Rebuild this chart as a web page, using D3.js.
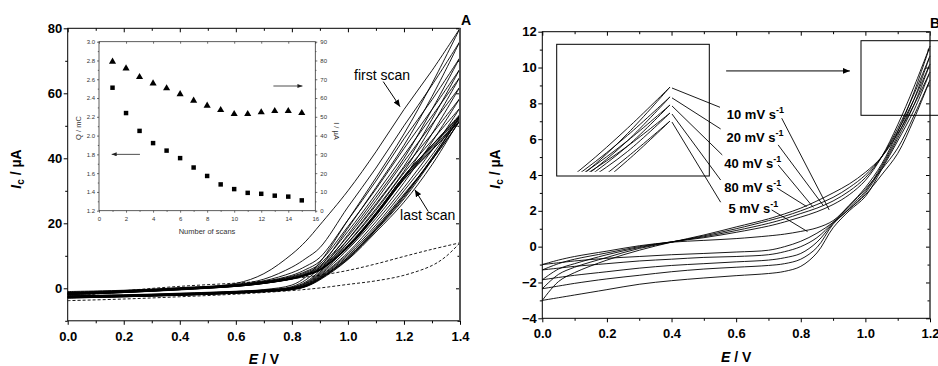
<!DOCTYPE html>
<html><head><meta charset="utf-8">
<script src="https://cdn.jsdelivr.net/npm/d3@7/dist/d3.min.js"></script>
<style>
html,body{margin:0;padding:0;background:#fff;}
svg{display:block;}
</style></head>
<body>
<svg id="chart" width="938" height="366"></svg>
<script>
// ================= Panel A data (E / V, I / µA) =================
const potentialGridA = [0, 0.2, 0.4, 0.6, 0.7, 0.8, 0.85, 0.9, 1.0, 1.1, 1.2, 1.3, 1.4];
const upperBranchesA = [
  [-1.0, -0.6, 0.2, 1.5, 4.5, 10.5, 14.5, 19.5, 30, 42, 55, 67, 80],
  [-1.2, -0.7, 0.1, 1.2, 2.8, 6.5, 9.2, 12.5, 25, 37, 50, 62.5, 76],
  [-1.3, -0.8, 0.0, 1.1, 2.3, 4.8, 6.8, 9.5, 21, 33, 46, 58, 71],
  [-1.4, -0.9, 0.0, 1.0, 2.1, 4.0, 5.8, 8.3, 19, 30.5, 43, 55, 67.5],
  [-1.5, -0.9, -0.1, 1.0, 2.0, 3.7, 5.2, 7.5, 17.5, 29, 41, 53, 65],
  [-1.5, -1.0, -0.1, 0.9, 1.9, 3.5, 4.9, 7.0, 16, 27, 39, 50.5, 62],
  [-1.6, -1.0, -0.2, 0.9, 1.8, 3.3, 4.6, 6.6, 15, 25.5, 37, 47.5, 58.5],
  [-1.6, -1.1, -0.2, 0.8, 1.7, 3.2, 4.4, 6.3, 14, 24, 35.5, 45.5, 55.5],
  [-1.7, -1.1, -0.3, 0.8, 1.7, 3.1, 4.3, 6.0, 13.3, 23.2, 34.5, 44, 53.5],
  [-1.7, -1.2, -0.3, 0.7, 1.6, 3.0, 4.2, 5.8, 12.8, 22.5, 33.5, 42.5, 51.5],
  [-1.8, -1.2, -0.3, 0.7, 1.6, 3.0, 4.1, 5.7, 12.6, 22.3, 33.5, 42.5, 51.5],
  [-1.8, -1.2, -0.4, 0.7, 1.6, 2.9, 4.1, 5.7, 12.7, 22.6, 34, 43.5, 52.5],
  [-1.9, -1.3, -0.4, 0.6, 1.5, 2.9, 4.0, 5.7, 12.9, 23, 34.5, 44, 53],
  [-1.9, -1.3, -0.4, 0.6, 1.5, 2.9, 4.0, 5.6, 12.8, 23, 34.5, 44, 53],
  [-2.0, -1.3, -0.5, 0.6, 1.5, 2.8, 3.9, 5.5, 12.5, 22.5, 34, 43, 52]
];
const lowerBranchesA = [
  [-2.2, -2.0, -1.5, -0.9, -0.4, 1.0, 3.5, 8.0, 21, 34, 47.5, 63, 80],
  [-2.3, -2.1, -1.6, -1.0, -0.5, 0.5, 2.6, 6.5, 18.5, 31, 44, 59, 76],
  [-2.4, -2.1, -1.7, -1.0, -0.6, 0.3, 2.0, 5.5, 16.5, 28, 40, 55, 71],
  [-2.5, -2.2, -1.7, -1.1, -0.6, 0.2, 1.7, 5.0, 15, 26, 37.5, 52, 67.5],
  [-2.5, -2.2, -1.8, -1.1, -0.7, 0.1, 1.5, 4.6, 14, 24.5, 36, 50, 65],
  [-2.6, -2.3, -1.8, -1.2, -0.7, 0.0, 1.3, 4.3, 13, 23, 34, 47.5, 62],
  [-2.6, -2.3, -1.9, -1.2, -0.8, -0.1, 1.1, 4.0, 12, 21.5, 32.5, 45, 58.5],
  [-2.7, -2.4, -1.9, -1.3, -0.8, -0.1, 1.0, 3.7, 11, 20.5, 31, 42.5, 55.5],
  [-2.7, -2.4, -2.0, -1.3, -0.9, -0.2, 0.9, 3.5, 10.5, 19.5, 30, 41, 53.5],
  [-2.8, -2.5, -2.0, -1.4, -0.9, -0.2, 0.8, 3.3, 10, 18.8, 29, 39.5, 51.5],
  [-2.8, -2.5, -2.0, -1.4, -0.9, -0.3, 0.7, 3.1, 9.5, 18.3, 28.5, 39.5, 51.5],
  [-2.9, -2.5, -2.1, -1.4, -1.0, -0.3, 0.7, 3.0, 9.5, 18.3, 28.5, 40, 52.5],
  [-2.9, -2.6, -2.1, -1.5, -1.0, -0.3, 0.6, 2.9, 9.2, 18, 28, 40, 53],
  [-3.0, -2.6, -2.1, -1.5, -1.0, -0.4, 0.6, 2.8, 9.0, 17.8, 27.5, 39.5, 53],
  [-3.0, -2.6, -2.2, -1.5, -1.1, -0.4, 0.5, 2.6, 8.8, 17.3, 26.5, 38, 52]
];
const blankUpperE = [0, 0.2, 0.4, 0.6, 0.7, 0.8, 0.9, 1.0, 1.1, 1.2, 1.3, 1.4];
const blankUpperI = [-2.8, -0.8, 0.6, 1.6, 2.2, 3.0, 4.0, 5.5, 7.5, 9.8, 12, 14];
const blankLowerE = [0, 0.2, 0.4, 0.6, 0.8, 0.9, 1.0, 1.1, 1.2, 1.3, 1.35, 1.4];
const blankLowerI = [-3.8, -3.3, -2.6, -1.8, -0.7, 0.1, 1.2, 2.3, 4.0, 7.0, 9.8, 14];

// inset of panel A
const scanNumbers = [1, 2, 3, 4, 5, 6, 7, 8, 9, 10, 11, 12, 13, 14, 15];
const chargeQ = [2.51, 2.24, 2.05, 1.92, 1.84, 1.76, 1.66, 1.57, 1.48, 1.43, 1.39, 1.38, 1.36, 1.35, 1.31];
const peakCurrent = [79.4, 75.8, 71.2, 67.8, 65.2, 62.1, 58.6, 55.9, 53.6, 51.5, 51.5, 52.4, 53.1, 53.1, 52.0];

const xTicksA = [0, 0.2, 0.4, 0.6, 0.8, 1.0, 1.2, 1.4];
const xMinorA = [0.1, 0.3, 0.5, 0.7, 0.9, 1.1, 1.3];
const yTicksA = [0, 20, 40, 60, 80];
const yMinorA = [-10, 10, 30, 50, 70];
const insetXTicks = [0, 2, 4, 6, 8, 10, 12, 14, 16];
const insetQTicks = [1.2, 1.4, 1.6, 1.8, 2.0, 2.2, 2.4, 2.6, 2.8, 3.0];
const insetITicks = [0, 10, 20, 30, 40, 50, 60, 70, 80, 90];

// ================= Panel B data =================
const potentialGridB = [0, 0.05, 0.1, 0.2, 0.3, 0.4, 0.5, 0.6, 0.7, 0.75, 0.8, 0.85, 0.9, 0.95, 1.0, 1.05, 1.1, 1.15, 1.2];
const scanRates = ["5", "10", "20", "40", "80"];
const upperBranchesB = [
  [-1.0, -0.75, -0.55, -0.25, 0.05, 0.25, 0.35, 0.45, 0.6, 0.7, 0.85, 1.05, 1.45, 2.3, 3.2, 4.3, 5.5, 7.3, 9.3],
  [-1.3, -0.95, -0.7, -0.35, 0.0, 0.27, 0.5, 0.8, 1.15, 1.38, 1.65, 1.95, 2.35, 2.9, 3.7, 5.0, 6.8, 8.9, 11.2],
  [-1.85, -1.25, -0.95, -0.45, -0.05, 0.27, 0.55, 0.9, 1.3, 1.55, 1.85, 2.15, 2.55, 3.1, 3.85, 5.0, 6.6, 8.5, 10.65],
  [-2.35, -1.55, -1.15, -0.6, -0.1, 0.25, 0.6, 1.0, 1.45, 1.7, 2.0, 2.35, 2.75, 3.3, 4.0, 5.0, 6.45, 8.2, 10.2],
  [-3.0, -1.95, -1.45, -0.75, -0.2, 0.25, 0.65, 1.1, 1.55, 1.83, 2.15, 2.55, 3.0, 3.5, 4.15, 5.0, 6.3, 7.9, 9.75]
];
const lowerBranchesB = [
  [-1.0, -0.9, -0.8, -0.65, -0.55, -0.45, -0.38, -0.3, -0.2, 0.0, 0.3, 0.75, 1.35, 2.1, 2.9, 4.0, 5.2, 7.1, 9.3],
  [-1.3, -1.2, -1.1, -0.95, -0.8, -0.7, -0.6, -0.55, -0.45, -0.28, 0.0, 0.5, 1.35, 2.3, 3.3, 4.6, 6.4, 8.6, 11.2],
  [-1.85, -1.72, -1.6, -1.4, -1.2, -1.05, -0.95, -0.85, -0.75, -0.62, -0.38, 0.25, 1.3, 2.2, 3.1, 4.5, 6.2, 8.2, 10.65],
  [-2.35, -2.2, -2.05, -1.8, -1.6, -1.4, -1.25, -1.15, -1.05, -0.95, -0.7, -0.05, 1.25, 2.1, 3.0, 4.4, 6.05, 7.9, 10.2],
  [-3.0, -2.85, -2.7, -2.4, -2.1, -1.9, -1.75, -1.62, -1.5, -1.38, -1.1, -0.35, 1.05, 2.0, 2.8, 4.3, 5.9, 7.6, 9.75]
];
const xTicksB = [0, 0.2, 0.4, 0.6, 0.8, 1.0, 1.2];
const xMinorB = [0.1, 0.3, 0.5, 0.7, 0.9, 1.1];
const yTicksB = [-4, -2, 0, 2, 4, 6, 8, 10, 12];
const yMinorB = [-3, -1, 1, 3, 5, 7, 9, 11];

// ================= drawing =================
const svg = d3.select("#chart");
const FONT = "'Liberation Sans', Arial, Helvetica, sans-serif";
svg.append("rect").attr("width", 938).attr("height", 366).attr("fill", "#fff");

const defs = svg.append("defs");
defs.append("marker").attr("id", "ah").attr("markerUnits", "userSpaceOnUse")
  .attr("markerWidth", 8).attr("markerHeight", 6).attr("refX", 7).attr("refY", 3)
  .attr("orient", "auto")
  .append("path").attr("d", "M0,0 L7,3 L0,6 Z").attr("fill", "#000");
defs.append("marker").attr("id", "ahs").attr("markerUnits", "userSpaceOnUse")
  .attr("markerWidth", 6).attr("markerHeight", 4).attr("refX", 5).attr("refY", 2)
  .attr("orient", "auto")
  .append("path").attr("d", "M0,0 L5,2 L0,4 Z").attr("fill", "#222");

const smooth = d3.curveCatmullRom.alpha(0.5);

function drawAxes(x, y, o) {
  const [xa, xb] = x.range();
  const [yb, yt] = y.range();
  const g = svg.append("g");
  const mk = (axis, tr) => {
    const a = g.append("g").attr("transform", tr).call(axis);
    a.select(".domain").remove();
    a.selectAll("line").attr("stroke", "#000").attr("stroke-width", 1);
    a.selectAll("text").attr("font-family", FONT).attr("font-size", 13)
      .attr("font-weight", "bold").attr("fill", "#000");
    return a;
  };
  mk(d3.axisBottom(x).tickValues(o.xMaj).tickSize(4).tickPadding(o.xPad).tickFormat(o.xFmt), `translate(0,${yb})`);
  mk(d3.axisBottom(x).tickValues(o.xMin).tickSize(2.5).tickFormat(""), `translate(0,${yb})`);
  mk(d3.axisBottom(x).tickValues(o.xMaj).tickSize(4).tickFormat(""), `translate(0,${yt})`);
  mk(d3.axisBottom(x).tickValues(o.xMin).tickSize(2.5).tickFormat(""), `translate(0,${yt})`);
  mk(d3.axisLeft(y).tickValues(o.yMaj).tickSize(4).tickPadding(1.5).tickFormat(o.yFmt), `translate(${xa},0)`);
  mk(d3.axisLeft(y).tickValues(o.yMin).tickSize(2.5).tickFormat(""), `translate(${xa},0)`);
  mk(d3.axisLeft(y).tickValues(o.yMaj).tickSize(4).tickFormat(""), `translate(${xb},0)`);
  mk(d3.axisLeft(y).tickValues(o.yMin).tickSize(2.5).tickFormat(""), `translate(${xb},0)`);
  g.append("rect").attr("x", xa).attr("y", yt).attr("width", xb - xa).attr("height", yb - yt)
    .attr("fill", "none").attr("stroke", "#000").attr("stroke-width", 1);
  g.append("line").attr("x1", xb).attr("x2", xb).attr("y1", yt).attr("y2", yb)
    .attr("stroke", "#555").attr("stroke-width", o.rightW || 1);
  return g;
}

function axisTitles(cx, xBase, yx, yy) {
  svg.append("text").attr("x", cx).attr("y", xBase).attr("text-anchor", "middle")
    .attr("font-family", FONT).attr("font-size", 14).attr("font-weight", "bold")
    .call(t => { t.append("tspan").attr("font-style", "italic").text("E"); t.append("tspan").text(" / V"); });
  const yt = svg.append("text").attr("transform", `translate(${yx},${yy}) rotate(-90)`)
    .attr("text-anchor", "middle").attr("font-family", FONT).attr("font-size", 14).attr("font-weight", "bold");
  yt.append("tspan").attr("font-style", "italic").text("I");
  yt.append("tspan").attr("font-size", 10).attr("dy", 3).text("c");
  yt.append("tspan").attr("dy", -3).text(" / µA");
}

// ---------- Panel A ----------
const xA = d3.scaleLinear().domain([0, 1.4]).range([67.7, 460]);
const yA = d3.scaleLinear().domain([-10, 80]).range([320.8, 28.3]);
const lineA = d3.line().x(d => xA(d[0])).y(d => yA(d[1])).curve(smooth);
const curvesA = svg.append("g").attr("fill", "none").attr("stroke", "#000").attr("stroke-width", 0.9);
upperBranchesA.forEach(arr => curvesA.append("path").attr("d", lineA(potentialGridA.map((e, i) => [e, arr[i]]))));
lowerBranchesA.forEach(arr => curvesA.append("path").attr("d", lineA(potentialGridA.map((e, i) => [e, arr[i]]))));
curvesA.append("path").attr("stroke-dasharray", "3,2")
  .attr("d", lineA(blankUpperE.map((e, i) => [e, blankUpperI[i]])));
curvesA.append("path").attr("stroke-dasharray", "3,2")
  .attr("d", lineA(blankLowerE.map((e, i) => [e, blankLowerI[i]])));

drawAxes(xA, yA, { xMaj: xTicksA, xMin: xMinorA, yMaj: yTicksA, yMin: yMinorA,
  xFmt: d3.format(".1f"), yFmt: d3.format("d"), xPad: 7, rightW: 2 });
axisTitles((67.7 + 460) / 2, 364, 21, 169);
svg.append("text").attr("x", 461).attr("y", 25).attr("font-family", FONT).attr("font-size", 14)
  .attr("font-weight", "bold").text("A");

// annotations in A
svg.append("text").attr("x", xA(1.022)).attr("y", yA(64.2)).attr("font-family", FONT).attr("font-size", 14).text("first scan");
svg.append("line").attr("x1", xA(1.126)).attr("y1", yA(63.6)).attr("x2", xA(1.186)).attr("y2", yA(55.9))
  .attr("stroke", "#000").attr("stroke-width", 1).attr("marker-end", "url(#ah)");
svg.append("text").attr("x", xA(1.186)).attr("y", yA(20.9)).attr("font-family", FONT).attr("font-size", 14).text("last scan");
svg.append("line").attr("x1", xA(1.287)).attr("y1", yA(23.6)).attr("x2", xA(1.239)).attr("y2", yA(30.3))
  .attr("stroke", "#000").attr("stroke-width", 1).attr("marker-end", "url(#ah)");

// ---------- Inset of A ----------
const xIn = d3.scaleLinear().domain([0, 16]).range([99, 315.3]);
const yQ = d3.scaleLinear().domain([1.2, 3.0]).range([210.7, 41.7]);
const yI = d3.scaleLinear().domain([0, 90]).range([210.7, 41.7]);
const gin = svg.append("g");
gin.append("rect").attr("x", 99).attr("y", 41.7).attr("width", 216.3).attr("height", 169)
  .attr("fill", "#fff").attr("stroke", "#333").attr("stroke-width", 0.8);
const mkIn = (axis, tr) => {
  const a = gin.append("g").attr("transform", tr).call(axis);
  a.select(".domain").remove();
  a.selectAll("line").attr("stroke", "#333").attr("stroke-width", 0.7);
  a.selectAll("text").attr("font-family", FONT).attr("font-size", 6).attr("fill", "#333");
  return a;
};
mkIn(d3.axisBottom(xIn).tickValues(insetXTicks).tickSize(2).tickPadding(4.5).tickFormat(d3.format("d")), "translate(0,210.7)");
mkIn(d3.axisBottom(xIn).tickValues(d3.range(1, 16, 2)).tickSize(1.2).tickFormat(""), "translate(0,210.7)");
mkIn(d3.axisBottom(xIn).tickValues(insetXTicks).tickSize(2).tickFormat(""), "translate(0,41.7)");
mkIn(d3.axisLeft(yQ).tickValues(insetQTicks).tickSize(2).tickPadding(2).tickFormat(d3.format(".1f")), "translate(99,0)");
mkIn(d3.axisLeft(yQ).tickValues(insetQTicks.slice(0, -1).map(v => v + 0.1)).tickSize(1.2).tickFormat(""), "translate(99,0)");
mkIn(d3.axisRight(yI).tickValues(insetITicks).tickSize(2).tickPadding(3).tickFormat(d3.format("d")), "translate(315.3,0)");
mkIn(d3.axisRight(yI).tickValues(insetITicks.slice(0, -1).map(v => v + 5)).tickSize(1.2).tickFormat(""), "translate(315.3,0)");
gin.append("text").attr("x", 207).attr("y", 234).attr("text-anchor", "middle").attr("font-family", FONT)
  .attr("font-size", 7.5).attr("fill", "#333").text("Number of scans");
gin.append("text").attr("transform", "translate(80.5,128) rotate(-90)").attr("text-anchor", "middle")
  .attr("font-family", FONT).attr("font-size", 7.5).attr("fill", "#333").text("Q / mC");
gin.append("text").attr("transform", "translate(334,131) rotate(90)").attr("text-anchor", "middle")
  .attr("font-family", FONT).attr("font-size", 7.5).attr("fill", "#333").text("I / µA");
gin.selectAll("path.sq").data(scanNumbers).enter().append("path")
  .attr("d", d3.symbol(d3.symbolSquare, 20))
  .attr("transform", (d, i) => `translate(${xIn(d)},${yQ(chargeQ[i])})`).attr("fill", "#000");
gin.selectAll("path.tr").data(scanNumbers).enter().append("path")
  .attr("d", d3.symbol(d3.symbolTriangle, 22))
  .attr("transform", (d, i) => `translate(${xIn(d)},${yI(peakCurrent[i])})`).attr("fill", "#000");
gin.append("line").attr("x1", xIn(3.03)).attr("x2", xIn(0.94)).attr("y1", yQ(1.8)).attr("y2", yQ(1.8))
  .attr("stroke", "#222").attr("stroke-width", 0.8).attr("marker-end", "url(#ahs)");
gin.append("line").attr("x1", xIn(12.9)).attr("x2", xIn(15.05)).attr("y1", yI(66.4)).attr("y2", yI(66.4))
  .attr("stroke", "#222").attr("stroke-width", 0.8).attr("marker-end", "url(#ahs)");

// ---------- Panel B ----------
const xB = d3.scaleLinear().domain([0, 1.2]).range([542.3, 930]);
const yB = d3.scaleLinear().domain([-4, 12]).range([318.3, 31.7]);
const lineB = d3.line().x(d => xB(d[0])).y(d => yB(d[1])).curve(smooth);
const curvesB = svg.append("g").attr("fill", "none").attr("stroke", "#000").attr("stroke-width", 0.9);
[upperBranchesB, lowerBranchesB].forEach(set => set.forEach(arr =>
  curvesB.append("path").attr("d", lineB(potentialGridB.map((e, i) => [e, arr[i]])))));

drawAxes(xB, yB, { xMaj: xTicksB, xMin: xMinorB, yMaj: yTicksB, yMin: yMinorB,
  xFmt: d3.format(".1f"), yFmt: d3.format("d"), xPad: 6, rightW: 1 });
axisTitles((542.3 + 930) / 2, 361.5, 500, 169);
svg.append("text").attr("x", 930).attr("y", 28.3).attr("font-family", FONT).attr("font-size", 14)
  .attr("font-weight", "bold").text("B");

// zoom boxes
svg.append("rect").attr("x", 556.7).attr("y", 44.3).attr("width", 152.6).attr("height", 131.7)
  .attr("fill", "none").attr("stroke", "#000").attr("stroke-width", 1);
svg.append("rect").attr("x", 861).attr("y", 40.7).attr("width", 120).attr("height", 74.6)
  .attr("fill", "none").attr("stroke", "#000").attr("stroke-width", 1);
svg.append("line").attr("x1", xB(0.569)).attr("x2", xB(0.952)).attr("y1", yB(9.81)).attr("y2", yB(9.81))
  .attr("stroke", "#000").attr("stroke-width", 1).attr("marker-end", "url(#ah)");

// magnified view inside the left box (same data, x stretched)
const xZ = d3.scaleLinear().domain([1.0, 1.2]).range([500, 670]);
const yZ = d3.scaleLinear().domain([-4, 12]).range([359.3, 72.7]);
defs.append("clipPath").attr("id", "zclip").append("rect")
  .attr("x", 557).attr("y", 44.8).attr("width", 152).attr("height", 127);
const lineZ = d3.line().x(d => xZ(d[0])).y(d => yZ(d[1])).curve(smooth);
const gz = svg.append("g").attr("clip-path", "url(#zclip)").attr("fill", "none").attr("stroke", "#000").attr("stroke-width", 0.9);
[upperBranchesB, lowerBranchesB].forEach(set => set.forEach(arr =>
  gz.append("path").attr("d", lineZ(potentialGridB.map((e, i) => [e, arr[i]]).filter(d => d[0] >= 1.0)))));

// rate labels: order from top peak to bottom peak
const labelOrder = [1, 2, 3, 4, 0];          // indices into scanRates
const labelPos = [[0.571, 7.11], [0.570, 5.86], [0.563, 4.38], [0.563, 3.07], [0.576, 1.86]];
const leadEnd1 = [[0.550, 7.78], [0.552, 6.57], [0.557, 5.12], [0.552, 3.72], [0.552, 2.48]];
const leadStart2 = [[0.741, 7.17], [0.730, 5.68], [0.730, 4.56], [0.726, 3.28], [0.710, 2.05]];
const leadEnd2 = [[0.888, 2.05], [0.870, 2.29], [0.839, 2.19], [0.818, 2.24], [0.821, 0.84]];
const gl = svg.append("g");
labelOrder.forEach((ri, k) => {
  const peak = upperBranchesB[ri][upperBranchesB[ri].length - 1];
  gl.append("line").attr("x1", xZ(1.2) + 2).attr("y1", yZ(peak) + 1)
    .attr("x2", xB(leadEnd1[k][0])).attr("y2", yB(leadEnd1[k][1]))
    .attr("stroke", "#000").attr("stroke-width", 0.9);
  gl.append("line").attr("x1", xB(leadStart2[k][0])).attr("y1", yB(leadStart2[k][1]))
    .attr("x2", xB(leadEnd2[k][0])).attr("y2", yB(leadEnd2[k][1]))
    .attr("stroke", "#000").attr("stroke-width", 0.9);
  const t = gl.append("text").attr("x", xB(labelPos[k][0])).attr("y", yB(labelPos[k][1]))
    .attr("font-family", FONT).attr("font-size", 13).attr("font-weight", "bold");
  t.append("tspan").text(scanRates[ri] + " mV s");
  t.append("tspan").attr("dy", -6).attr("font-size", 9).text("-1");
});
</script>
</body></html>
